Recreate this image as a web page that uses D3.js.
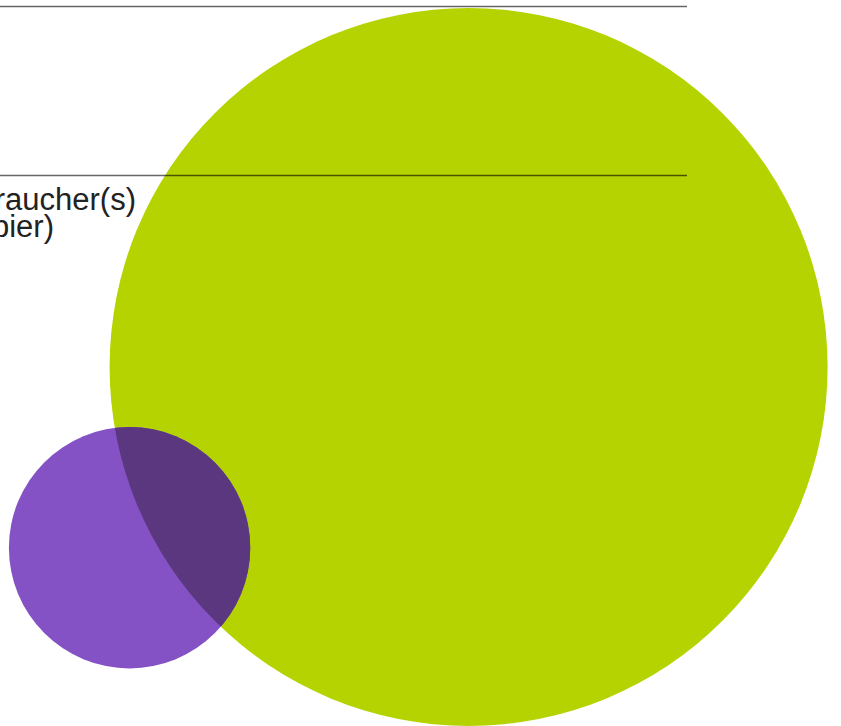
<!DOCTYPE html>
<html>
<head>
<meta charset="utf-8">
<script src="https://cdn.jsdelivr.net/npm/d3@7"></script>
<style>
  html, body { margin: 0; padding: 0; background: #fff; }
  svg { display: block; }
</style>
</head>
<body>
<svg id="chart" width="841" height="726"></svg>
<script>
// ---- data ----
const setNames = ["A", "B"];
const setSizes = [100, 11.3];      // relative set sizes (area)
const overlapSize = 3.8;           // size of A ∩ B
const setColors = ["#b5d300", "#8452c4"];
const overlapColor = "#5a377e";
const labelLines = ["Verbraucher(s)", "(Papier)"];

// ---- layout ----
const svg = d3.select("#chart");

const rScale = d3.scaleSqrt().domain([0, 100]).range([0, 359]);
const r1 = rScale(setSizes[0]);
const r2 = rScale(setSizes[1]);

function lensArea(d, a, b) {
  if (d >= a + b) return 0;
  if (d <= Math.abs(a - b)) return Math.PI * Math.min(a, b) ** 2;
  const t1 = a * a * Math.acos((d * d + a * a - b * b) / (2 * d * a));
  const t2 = b * b * Math.acos((d * d + b * b - a * a) / (2 * d * b));
  const t3 = 0.5 * Math.sqrt((-d + a + b) * (d + a - b) * (d - a + b) * (d + a + b));
  return t1 + t2 - t3;
}
const targetArea = Math.PI * rScale(overlapSize) ** 2;
let lo = Math.abs(r1 - r2), hi = r1 + r2;
for (let i = 0; i < 60; i++) {
  const mid = (lo + hi) / 2;
  if (lensArea(mid, r1, r2) > targetArea) lo = mid; else hi = mid;
}
const dist = (lo + hi) / 2;

const c1 = { x: 468.6, y: 367 };
const angle = Math.atan2(180.5, -338.6);
const c2 = { x: c1.x + dist * Math.cos(angle), y: c1.y + dist * Math.sin(angle) };
const centers = [c1, c2];
const radii = [r1, r2];

const defs = svg.append("defs");
defs.append("clipPath").attr("id", "clipA")
  .append("circle").attr("cx", c1.x).attr("cy", c1.y).attr("r", r1);

const ruleY = [6.5, 175.5];

svg.append("line")
  .attr("x1", 0).attr("x2", 687).attr("y1", ruleY[0]).attr("y2", ruleY[0])
  .attr("stroke", "#000").attr("stroke-opacity", 0.6).attr("stroke-width", 1.5);

svg.selectAll("circle.set")
  .data(setNames)
  .join("circle")
  .attr("class", "set")
  .attr("cx", (d, i) => centers[i].x)
  .attr("cy", (d, i) => centers[i].y)
  .attr("r", (d, i) => radii[i])
  .attr("fill", (d, i) => setColors[i]);

svg.append("circle")
  .attr("cx", c2.x).attr("cy", c2.y).attr("r", r2)
  .attr("clip-path", "url(#clipA)")
  .attr("fill", overlapColor);

svg.append("line")
  .attr("x1", 0).attr("x2", 687).attr("y1", ruleY[1]).attr("y2", ruleY[1])
  .attr("stroke", "#000").attr("stroke-opacity", 0.6).attr("stroke-width", 1.5);

// label (cut off at left edge, as in the reference)
const labelEnds = [136, 54];
const label = svg.append("g")
  .attr("font-family", "'Liberation Sans', Arial, sans-serif")
  .attr("font-size", 31)
  .attr("fill", "#222");
label.selectAll("text")
  .data(labelLines)
  .join("text")
  .attr("text-anchor", "end")
  .attr("x", (d, i) => labelEnds[i])
  .attr("y", (d, i) => 210 + i * 27)
  .text(d => d);
</script>
</body>
</html>
